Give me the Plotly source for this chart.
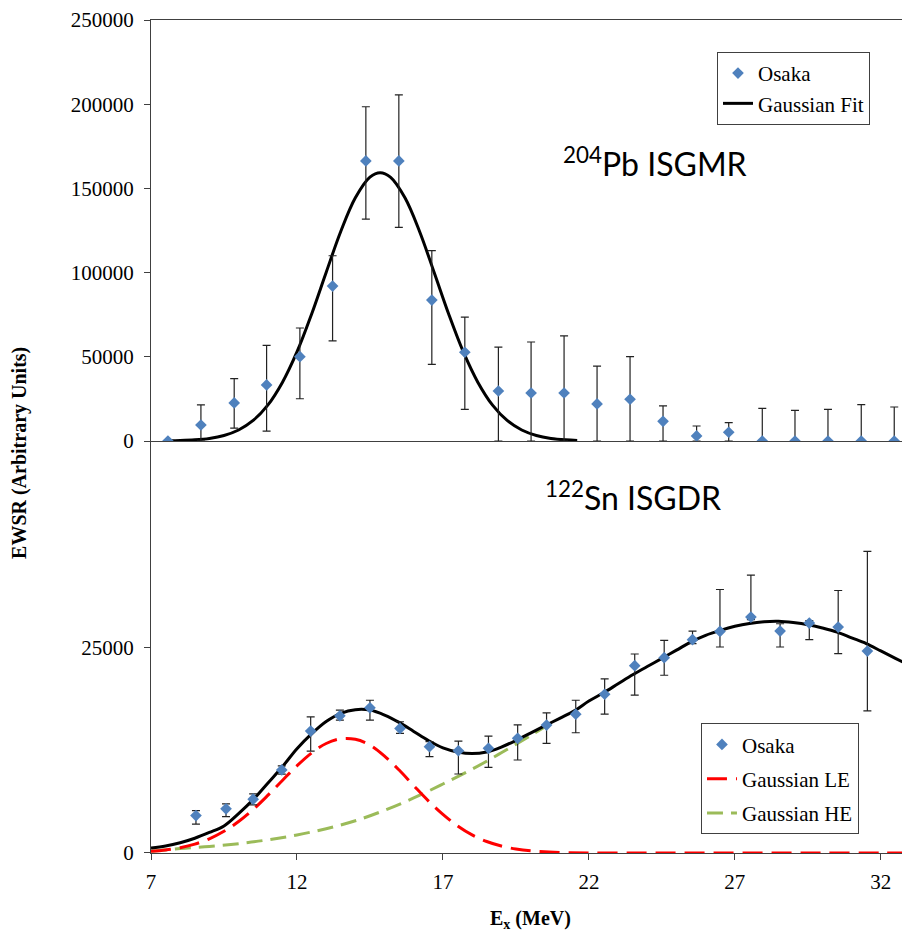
import plotly.graph_objects as go

# ---------------- data: top panel (204Pb ISGMR) ----------------
pb_x = [7.58, 8.71, 9.85, 10.96, 12.10, 13.22, 14.36, 15.49, 16.62, 17.75, 18.90, 20.02,
        21.15, 22.28, 23.41, 24.54, 25.69, 26.79, 27.94, 29.06, 30.19, 31.33, 32.46]
pb_y = [0, 9500, 22600, 33300, 50100, 92000, 166300, 166300, 83700, 52700, 29700, 28500,
        28500, 22000, 24800, 11700, 3000, 5200, 0, 0, 0, 0, 0]
pb_err_plus = [0, 11900, 14400, 23500, 17000, 18000, 32200, 39200, 29300, 20900, 26100, 30300,
               33900, 22500, 25300, 9100, 5900, 5700, 19400, 18200, 18800, 21600, 20200]
pb_err_minus = [0, 9500, 15000, 27400, 25000, 32600, 34500, 39400, 38200, 33900, 29700, 28500,
                28500, 22000, 24800, 11700, 3000, 5200, 0, 0, 0, 0, 0]

pb_fit_x = [7.6, 8.0, 8.5, 9.0, 9.5, 10.0, 10.5, 11.0, 11.5, 12.0, 12.5, 13.0, 13.5, 14.0, 14.5,
            14.85, 15.2, 15.7, 16.2, 16.7, 17.2, 17.7, 18.2, 18.7, 19.2, 19.7, 20.2, 20.7, 21.2, 21.6]
pb_fit_y = [130, 270, 670, 1530, 3290, 6550, 12200, 21300, 34800, 52900, 75300, 100100, 124400,
            144400, 156700, 159300, 156700, 144400, 124400, 100100, 75300, 52900, 34800, 21300,
            12200, 6550, 3290, 1530, 670, 330]

# ---------------- data: bottom panel (122Sn ISGDR) ----------------
sn_x = [8.54, 9.57, 10.50, 11.48, 12.47, 13.47, 14.50, 15.53, 16.54, 17.53, 18.56, 19.56,
        20.55, 21.55, 22.54, 23.57, 24.58, 25.55, 26.49, 27.55, 28.55, 29.55, 30.54, 31.54]
sn_y = [4560, 5380, 6550, 10110, 14840, 16700, 17670, 15170, 12940, 12450, 12740, 13960,
        15570, 16900, 19330, 22810, 23780, 25970, 26980, 28720, 27020, 27990, 27500, 24590]
sn_err_plus = [610, 600, 650, 500, 1740, 690, 930, 810, 610, 1180, 1500, 1650,
               1490, 1700, 1860, 1420, 2100, 1040, 5100, 5100, 890, 300, 4460, 12130]
sn_err_minus = [1040, 940, 690, 500, 2430, 520, 1490, 610, 1210, 2830, 2310, 2640,
                2220, 2260, 2430, 3600, 2140, 480, 1900, 300, 1940, 2020, 3230, 7280]

sn_fit_x = [7.0, 7.5, 8.0, 8.5, 9.0, 9.5, 10.0, 10.5, 11.0, 11.5, 12.0, 12.5, 13.0, 13.5, 14.0,
            14.5, 15.0, 15.5, 16.0, 16.5, 17.0, 17.5, 18.0, 18.5, 19.0, 19.5, 20.0, 20.5, 21.0,
            21.5, 22.0, 22.5, 23.0, 23.5, 24.0, 24.5, 25.0, 25.5, 26.0, 26.5, 27.0, 27.5, 28.0,
            28.5, 29.0, 29.5, 30.0, 30.5, 31.0, 31.5, 32.0, 32.5, 33.0]
sn_fit_y = [600, 850, 1250, 1800, 2500, 3300, 4800, 6500, 8500, 10500, 12700, 14500, 16000,
            17000, 17450, 17400, 16800, 15900, 14800, 13700, 12800, 12300, 12100, 12300, 12900,
            13700, 14600, 15500, 16400, 17300, 18500, 19500, 20600, 21700, 22700, 23700, 24700,
            25700, 26500, 27100, 27600, 27950, 28150, 28200, 28050, 27800, 27400, 26900, 26200,
            25500, 24600, 23700, 22800]

le_x = [7.0, 7.5, 8.0, 8.5, 9.0, 9.5, 10.0, 10.5, 11.0, 11.5, 12.0, 12.5, 13.0, 13.5, 14.0,
        14.5, 15.0, 15.5, 16.0, 16.5, 17.0, 17.5, 18.0, 18.5, 19.0, 19.5, 20.0, 21.0, 22.0,
        24.0, 26.0, 28.0, 30.0, 32.0, 33.0]
le_y = [200, 370, 650, 1080, 1730, 2640, 3830, 5300, 7010, 8830, 10620, 12180, 13330, 13900,
        13840, 13140, 11800, 10100, 8200, 6350, 4700, 3300, 2200, 1400, 850, 480, 260, 60, 0,
        0, 0, 0, 0, 0, 0]

he_x = [7.0, 8.0, 9.0, 10.0, 11.0, 12.0, 13.0, 14.0, 15.0, 16.0, 17.0, 18.0, 19.0, 20.0, 20.6]
he_y = [200, 550, 800, 1140, 1600, 2200, 2960, 3920, 5200, 6700, 8400, 10200, 12200, 14300, 15600]

# ---------------- figure ----------------
serif = "Liberation Serif"
blue = "#4F81BD"
axis_col = "#404040"

fig = go.Figure()

# top panel
fig.add_trace(go.Scatter(
    x=pb_fit_x, y=pb_fit_y, mode="lines", line=dict(color="black", width=3, shape="spline"),
    name="Gaussian Fit", xaxis="x2", yaxis="y2", legend="legend", legendrank=2,
    legendgroup="pbfit"))
fig.add_trace(go.Scatter(
    x=pb_x, y=pb_y, mode="markers", name="Osaka",
    marker=dict(symbol="diamond", size=9, color=blue),
    error_y=dict(type="data", symmetric=False, array=pb_err_plus, arrayminus=pb_err_minus,
                 color="#222222", thickness=1.2, width=4),
    xaxis="x2", yaxis="y2", legend="legend", legendrank=1, legendgroup="pbdata"))

# bottom panel
fig.add_trace(go.Scatter(
    x=he_x, y=he_y, mode="lines", name="Gaussian HE",
    line=dict(color="#9BBB59", width=3, dash="16px,8px", shape="spline"),
    xaxis="x", yaxis="y", legend="legend2", legendrank=3, legendgroup="he"))
fig.add_trace(go.Scatter(
    x=le_x, y=le_y, mode="lines", name="Gaussian LE",
    line=dict(color="#FF0000", width=3, dash="20px,9px", shape="spline"),
    xaxis="x", yaxis="y", legend="legend2", legendrank=2, legendgroup="le"))
fig.add_trace(go.Scatter(
    x=sn_fit_x, y=sn_fit_y, mode="lines", name="Fit",
    line=dict(color="black", width=3, shape="spline"),
    xaxis="x", yaxis="y", showlegend=False))
fig.add_trace(go.Scatter(
    x=sn_x, y=sn_y, mode="markers", name="Osaka",
    marker=dict(symbol="diamond", size=9, color=blue),
    error_y=dict(type="data", symmetric=False, array=sn_err_plus, arrayminus=sn_err_minus,
                 color="#222222", thickness=1.2, width=4),
    xaxis="x", yaxis="y", legend="legend2", legendrank=1, legendgroup="sndata"))

split = 0.4946
tickfont = dict(family=serif, size=21, color="black")

fig.update_layout(
    width=902, height=929,
    margin=dict(l=143, r=0, t=10, b=84),
    font=dict(family=serif, color="black"),
    plot_bgcolor="white", paper_bgcolor="white",
    xaxis=dict(domain=[0, 1], range=[7, 33], tickvals=[7, 12, 17, 22, 27, 32],
               showline=True, linecolor=axis_col, linewidth=1, ticks="outside",
               ticklen=6, tickcolor=axis_col, tickfont=tickfont, showgrid=False,
               zeroline=False, anchor="y", ticklabelstandoff=4),
    xaxis2=dict(domain=[0, 1], range=[7, 33], matches="x", showline=True, mirror=True,
                linecolor=axis_col, linewidth=1, ticks="", showticklabels=False,
                showgrid=False, zeroline=False, anchor="y2"),
    yaxis=dict(domain=[0, split], range=[0, 50160], tickvals=[0, 25000], tickformat="d",
               showline=True, linecolor=axis_col, linewidth=1, ticks="outside", ticklen=6,
               tickcolor=axis_col, tickfont=tickfont, showgrid=False, zeroline=False,
               anchor="x", ticklabelstandoff=6),
    yaxis2=dict(domain=[split, 1], range=[0, 250000], dtick=50000, tickformat="d",
                showline=True, linecolor=axis_col, linewidth=1, ticks="outside", ticklen=6,
                tickcolor=axis_col, tickfont=tickfont, showgrid=False, zeroline=False,
                anchor="x2", ticklabelstandoff=6, ticklabeloverflow="allow"),
    legend=dict(x=0.7457, y=0.9617, xanchor="left", yanchor="top",
                bordercolor=axis_col, borderwidth=1, bgcolor="white",
                font=dict(family=serif, size=21, color="black"), itemwidth=30,
                traceorder="grouped", tracegroupgap=0),
    legend2=dict(x=0.7246, y=0.1557, xanchor="left", yanchor="top",
                 bordercolor=axis_col, borderwidth=1, bgcolor="white",
                 font=dict(family=serif, size=21, color="black"), itemwidth=30,
                 traceorder="grouped", tracegroupgap=4),
    annotations=[
        dict(text="<sup>204</sup>Pb ISGMR", x=(655 - 151) / 759, y=(853 - 160) / 835,
             xref="paper", yref="paper", showarrow=False, xanchor="center", yanchor="middle",
             font=dict(family="Lato", size=32, color="black")),
        dict(text="<sup>122</sup>Sn ISGDR", x=(633 - 151) / 759, y=(853 - 495) / 835,
             xref="paper", yref="paper", showarrow=False, xanchor="center", yanchor="middle",
             font=dict(family="Lato", size=32, color="black")),
        dict(text="<b>EWSR (Arbitrary Units)</b>", x=(20 - 151) / 759, y=(853 - 452) / 835,
             xref="paper", yref="paper", showarrow=False, textangle=-90,
             xanchor="center", yanchor="middle",
             font=dict(family=serif, size=20, color="black")),
        dict(text="<b>E<sub>x</sub> (MeV)</b>", x=(530 - 151) / 759, y=(853 - 920) / 835,
             xref="paper", yref="paper", showarrow=False, xanchor="center", yanchor="middle",
             font=dict(family=serif, size=20, color="black")),
    ],
)

fig.write_html("out.html")
